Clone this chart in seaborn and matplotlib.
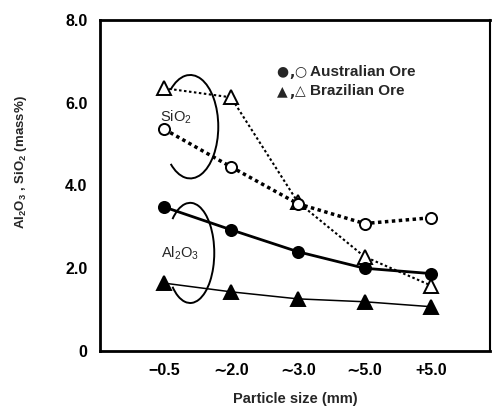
import matplotlib
matplotlib.use("Agg")
import matplotlib.pyplot as plt
from matplotlib.patches import Arc
import seaborn as sns
import pandas as pd

sizes = ["\u22120.5", "\u223c2.0", "\u223c3.0", "\u223c5.0", "+5.0"]
aus_al2o3 = [3.48, 2.93, 2.40, 2.00, 1.87]
aus_sio2 = [5.36, 4.45, 3.56, 3.08, 3.22]
bra_al2o3 = [1.64, 1.43, 1.26, 1.19, 1.07]
bra_sio2 = [6.35, 6.13, 3.60, 2.28, 1.58]
yticks = [0, 2, 4, 6, 8]
ytick_labels = ["0", "2.0", "4.0", "6.0", "8.0"]

sns.set_theme(style="white")
plt.rcParams["font.family"] = ["Liberation Sans", "DejaVu Sans"]
plt.rcParams["mathtext.fontset"] = "custom"
plt.rcParams["mathtext.rm"] = "Liberation Sans"
plt.rcParams["mathtext.bf"] = "Liberation Sans:bold"

fig = plt.figure(figsize=(4.93, 4.07), dpi=100)
ax = fig.add_axes([0.203, 0.1376, 0.791, 0.8134])

def draw(vals, marker, mfc, ls, lw, ms):
    df = pd.DataFrame({"size": sizes, "val": vals})
    sns.lineplot(data=df, x="size", y="val", ax=ax, color="black",
                 linestyle=ls, linewidth=lw, marker=marker, markersize=ms,
                 markerfacecolor=mfc, markeredgecolor="black",
                 markeredgewidth=1.4, sort=False, zorder=3)

draw(bra_sio2, "^", "white", (0, (1.2, 1.2)), 1.5, 10)
draw(aus_sio2, "o", "white", (0, (1.0, 1.0)), 2.5, 8)
draw(aus_al2o3, "o", "black", "-", 2.0, 8)
draw(bra_al2o3, "^", "black", "-", 1.1, 10)

ax.set_xlim(-0.96, 4.88)
ax.set_ylim(0, 8)
ax.set_yticks(yticks)
ax.set_yticklabels(ytick_labels)
ax.tick_params(axis="both", direction="in", length=9, width=1.3,
               colors="black", labelsize=11.5)
ax.tick_params(axis="y", pad=9)
ax.tick_params(axis="x", pad=9)
for lab in ax.get_xticklabels() + ax.get_yticklabels():
    lab.set_fontweight("bold")

for side in ["left", "bottom", "top"]:
    ax.spines[side].set_linewidth(2.0)
    ax.spines[side].set_color("black")
ax.spines["right"].set_linewidth(1.5)
ax.spines["right"].set_color("black")

ax.set_xlabel("Particle size (mm)", fontsize=10.5, fontweight="bold")
ax.xaxis.set_label_coords(0.5, -0.125)
ax.set_ylabel("Al$_\\mathbf{2}$O$_\\mathbf{3}$ , SiO$_\\mathbf{2}$ (mass%)",
              fontsize=9.5, fontweight="bold")
ax.yaxis.set_label_coords(-0.183, 0.57)

# bracket arcs
ax.add_patch(Arc((0.39, 5.42), 0.84, 2.5, theta1=-108, theta2=108,
                 color="black", lw=1.4))
ax.add_patch(Arc((0.39, 2.37), 0.72, 2.42, theta1=-108, theta2=108,
                 color="black", lw=1.4))
ax.text(0.17, 5.65, "SiO$_2$", fontsize=10.5, ha="center", va="center")
ax.text(0.24, 2.37, "Al$_2$O$_3$", fontsize=10.5, ha="center", va="center")

# legend as text
sym_kw = dict(ha="center", va="center", family=["DejaVu Sans"])
for y, s1, s2, label in [(6.75, "\u25cf", "\u25cb", "Australian Ore"),
                         (6.28, "\u25b2", "\u25b3", "Brazilian Ore")]:
    ax.text(1.77, y, s1, fontsize=10, **sym_kw)
    ax.text(1.92, y - 0.04, ",", fontsize=10, fontweight="bold", **sym_kw)
    ax.text(2.04, y, s2, fontsize=10, **sym_kw)
    ax.text(2.19, y, label, fontsize=11, ha="left", va="center",
            fontweight="bold")

fig.savefig("out.png", dpi=100)
